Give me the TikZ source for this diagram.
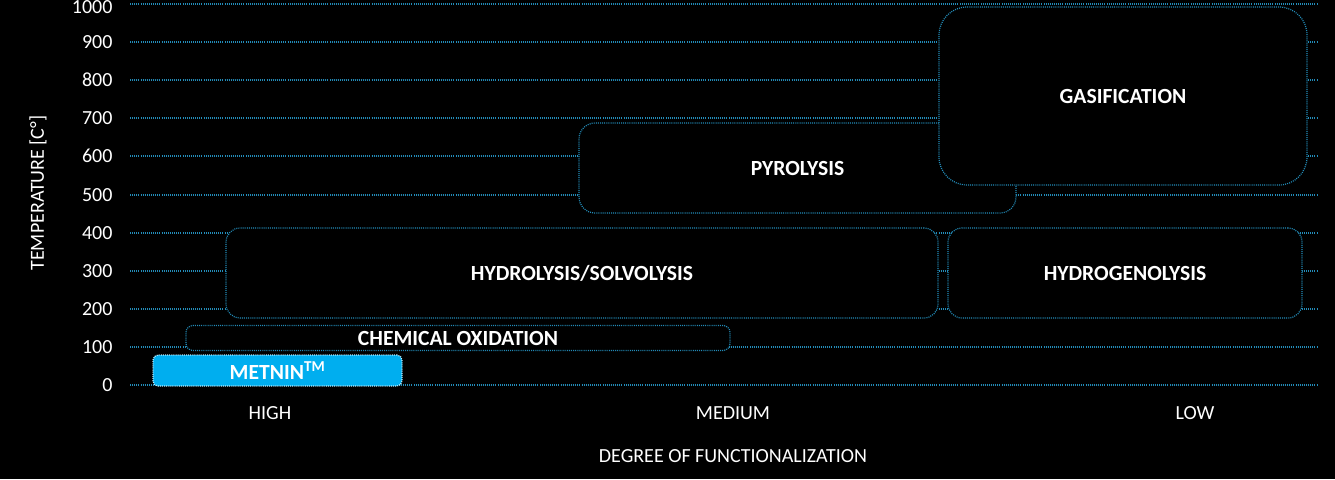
\documentclass[tikz,border=0pt]{standalone}
\usepackage{fontspec}
\setmainfont{Carlito}
\usepackage{tikz}
\usetikzlibrary{positioning}
\definecolor{gridblue}{RGB}{35,140,185}
\definecolor{metninblue}{RGB}{0,174,239}

\begin{document}
\begin{tikzpicture}[x=1pt,y=-1pt]
	\tikzstyle{every node}=[font=\fontsize{20}{24}\selectfont,text=white];
	\tikzstyle{grid}=[gridblue,line width=1.2pt,dash pattern=on 1pt off 1.1pt];
	\tikzstyle{proc}=[draw=gridblue,fill=black,line width=1.2pt,dash pattern=on 1pt off 1.1pt,font=\fontsize{21.6}{26}\selectfont\bfseries];
	\fill[black] (0,0) rectangle (1335,479);
	\useasboundingbox (0,0) rectangle (1335,479);
	% temperature scale
	\node[anchor=east] (t0) at (116,385) {0};
	\node[anchor=east] (t1) at (116,347) {100};
	\node[anchor=east] (t2) at (116,309) {200};
	\node[anchor=east] (t3) at (116,271) {300};
	\node[anchor=east] (t4) at (116,233) {400};
	\node[anchor=east] (t5) at (116,195) {500};
	\node[anchor=east] (t6) at (116,156) {600};
	\node[anchor=east] (t7) at (116,118) {700};
	\node[anchor=east] (t8) at (116,80) {800};
	\node[anchor=east] (t9) at (116,42) {900};
	\node[anchor=east] (t10) at (116,7.5) {1000};
	\draw[grid] (130,385) -- (1318,385)
	(130,347) -- (1318,347)
	(130,309) -- (1318,309)
	(130,271) -- (1318,271)
	(130,233) -- (1318,233)
	(130,195) -- (1318,195)
	(130,156) -- (1318,156)
	(130,118) -- (1318,118)
	(130,80) -- (1318,80)
	(130,42) -- (1318,42)
	(130,4) -- (1318,4);
	\node[rotate=90] (ylab) at (38,193) {TEMPERATURE [C°]};
	% processes
	\node[proc,rounded corners=5pt,fill=metninblue,draw=white!75!metninblue,minimum width=249,minimum height=31] (metnin) at (277.5,370.5) {METNIN\textsuperscript{TM}};
	\node[proc,rounded corners=7pt,minimum width=544,minimum height=25] (chem) at (458,338) {CHEMICAL OXIDATION};
	\node[proc,rounded corners=14pt,minimum width=712,minimum height=90] (hydro) at (582,273) {HYDROLYSIS/SOLVOLYSIS};
	\node[proc,rounded corners=14pt,minimum width=354,minimum height=90] (hgen) at (1125,273) {HYDROGENOLYSIS};
	\node[proc,rounded corners=16pt,minimum width=437,minimum height=90] (pyro) at (797.5,168) {PYROLYSIS};
	\node[proc,rounded corners=28pt,minimum width=368,minimum height=178] (gas) at (1123,96) {GASIFICATION};
	% functionalization scale
	\node (high) at (270,413) {HIGH};
	\node (medium) at (733,413) {MEDIUM};
	\node (low) at (1195,413) {LOW};
	\node[below=23.4pt of medium] (xlab) {DEGREE OF FUNCTIONALIZATION};
\end{tikzpicture}
\end{document}
